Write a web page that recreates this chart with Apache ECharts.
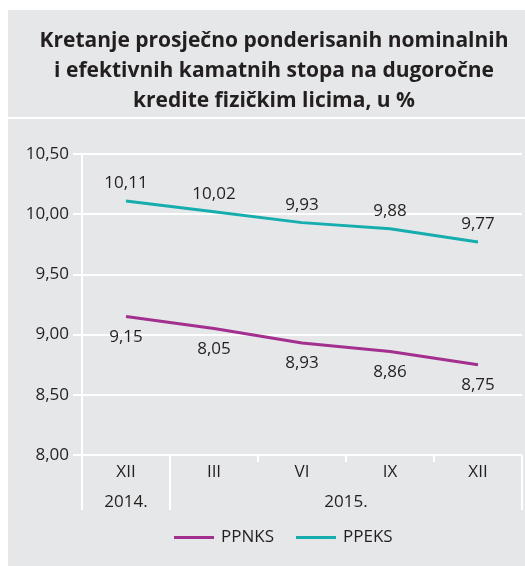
<!DOCTYPE html>
<html>
<head>
<meta charset="utf-8">
<script src="https://cdn.jsdelivr.net/npm/echarts@6/dist/echarts.min.js"></script>
<style>
  html, body { margin: 0; padding: 0; background: #ffffff; }
  #chart { width: 525px; height: 566px; }
</style>
</head>
<body>
<div id="chart"></div>
<script>
// data
var months = ['XII', 'III', 'VI', 'IX', 'XII'];
var years = ['2014.', '2015.'];
var yearPos = [0.5, 3];        // centre of each year span, in category units
var yearBreaks = [0, 1, 5];    // category boundaries where the year changes
var ppnks = [9.15, 9.05, 8.93, 8.86, 8.75];
var ppnksLabels = ['9,15', '8,05', '8,93', '8,86', '8,75'];  // as printed on the original
var ppeks = [10.11, 10.02, 9.93, 9.88, 9.77];
var yTicks = [8.0, 8.5, 9.0, 9.5, 10.0, 10.5];

var FONT = '"Open Sans", sans-serif';
var INK = '#231f20';
var PANEL = '#e6e7e8';
var PURPLE = '#a3308f';
var TEAL = '#16adaf';

function comma(v) { return v.toFixed(2).replace('.', ','); }

var chart = echarts.init(document.getElementById('chart'));

chart.setOption({
  backgroundColor: '#ffffff',
  animation: false,
  graphic: [
    { type: 'rect', z: -10, shape: { x: 8, y: 10, width: 517, height: 107 }, style: { fill: PANEL } },
    { type: 'rect', z: -10, shape: { x: 8, y: 119, width: 517, height: 447 }, style: { fill: PANEL } }
  ],
  title: {
    text: 'Kretanje prosječno ponderisanih nominalnih\ni efektivnih kamatnih stopa na dugoročne\nkredite fizičkim licima, u %',
    left: 269,
    top: 21,
    textAlign: 'center',
    textStyle: {
      fontFamily: FONT,
      fontWeight: 'bold',
      fontSize: 21,
      lineHeight: 30,
      color: INK
    }
  },
  legend: {
    bottom: 15,
    left: 169,
    icon: 'rect',
    itemWidth: 40,
    itemHeight: 3,
    itemGap: 22,
    textStyle: { fontFamily: FONT, fontSize: 17, color: INK, padding: [0, 0, 0, 2] },
    data: ['PPNKS', 'PPEKS']
  },
  grid: { left: 82, right: 3, top: 154, bottom: 111 },
  xAxis: [
    {
      type: 'category',
      data: months,
      boundaryGap: true,
      axisLine: { show: false },
      axisTick: { show: true, length: 7, lineStyle: { color: '#ffffff', width: 2 } },
      axisLabel: { fontFamily: FONT, fontSize: 17, color: INK, margin: 9 }
    },
    {
      type: 'value',
      position: 'bottom',
      min: 0,
      max: 5,
      axisLine: { show: false },
      splitLine: { show: false },
      axisTick: {
        show: true,
        customValues: yearBreaks,
        length: 55,
        lineStyle: { color: '#ffffff', width: 2 }
      },
      axisLabel: {
        customValues: yearPos,
        margin: 39,
        fontFamily: FONT,
        fontSize: 17,
        color: INK,
        formatter: function (v) { return years[yearPos.indexOf(v)] || ''; }
      }
    }
  ],
  yAxis: {
    type: 'value',
    min: yTicks[0],
    max: yTicks[yTicks.length - 1],
    interval: 0.5,
    axisLine: { show: true, lineStyle: { color: '#ffffff', width: 2 } },
    axisTick: { show: true, length: 9, lineStyle: { color: '#ffffff', width: 2 } },
    splitLine: { lineStyle: { color: '#ffffff', width: 2 } },
    axisLabel: {
      fontFamily: FONT,
      fontSize: 17,
      color: INK,
      margin: 13,
      formatter: comma
    }
  },
  series: [
    {
      name: 'PPNKS',
      type: 'line',
      data: ppnks,
      symbol: 'circle',
      symbolSize: 0,
      showSymbol: true,
      lineStyle: { color: PURPLE, width: 3 },
      itemStyle: { color: PURPLE },
      label: {
        show: true,
        position: 'bottom',
        distance: 12,
        fontFamily: FONT,
        fontSize: 17,
        color: INK,
        formatter: function (p) { return ppnksLabels[p.dataIndex]; }
      }
    },
    {
      name: 'PPEKS',
      type: 'line',
      data: ppeks,
      symbol: 'circle',
      symbolSize: 0,
      showSymbol: true,
      lineStyle: { color: TEAL, width: 3 },
      itemStyle: { color: TEAL },
      label: {
        show: true,
        position: 'top',
        distance: 9,
        fontFamily: FONT,
        fontSize: 17,
        color: INK,
        formatter: function (p) { return comma(p.value); }
      }
    }
  ]
});
</script>
</body>
</html>
